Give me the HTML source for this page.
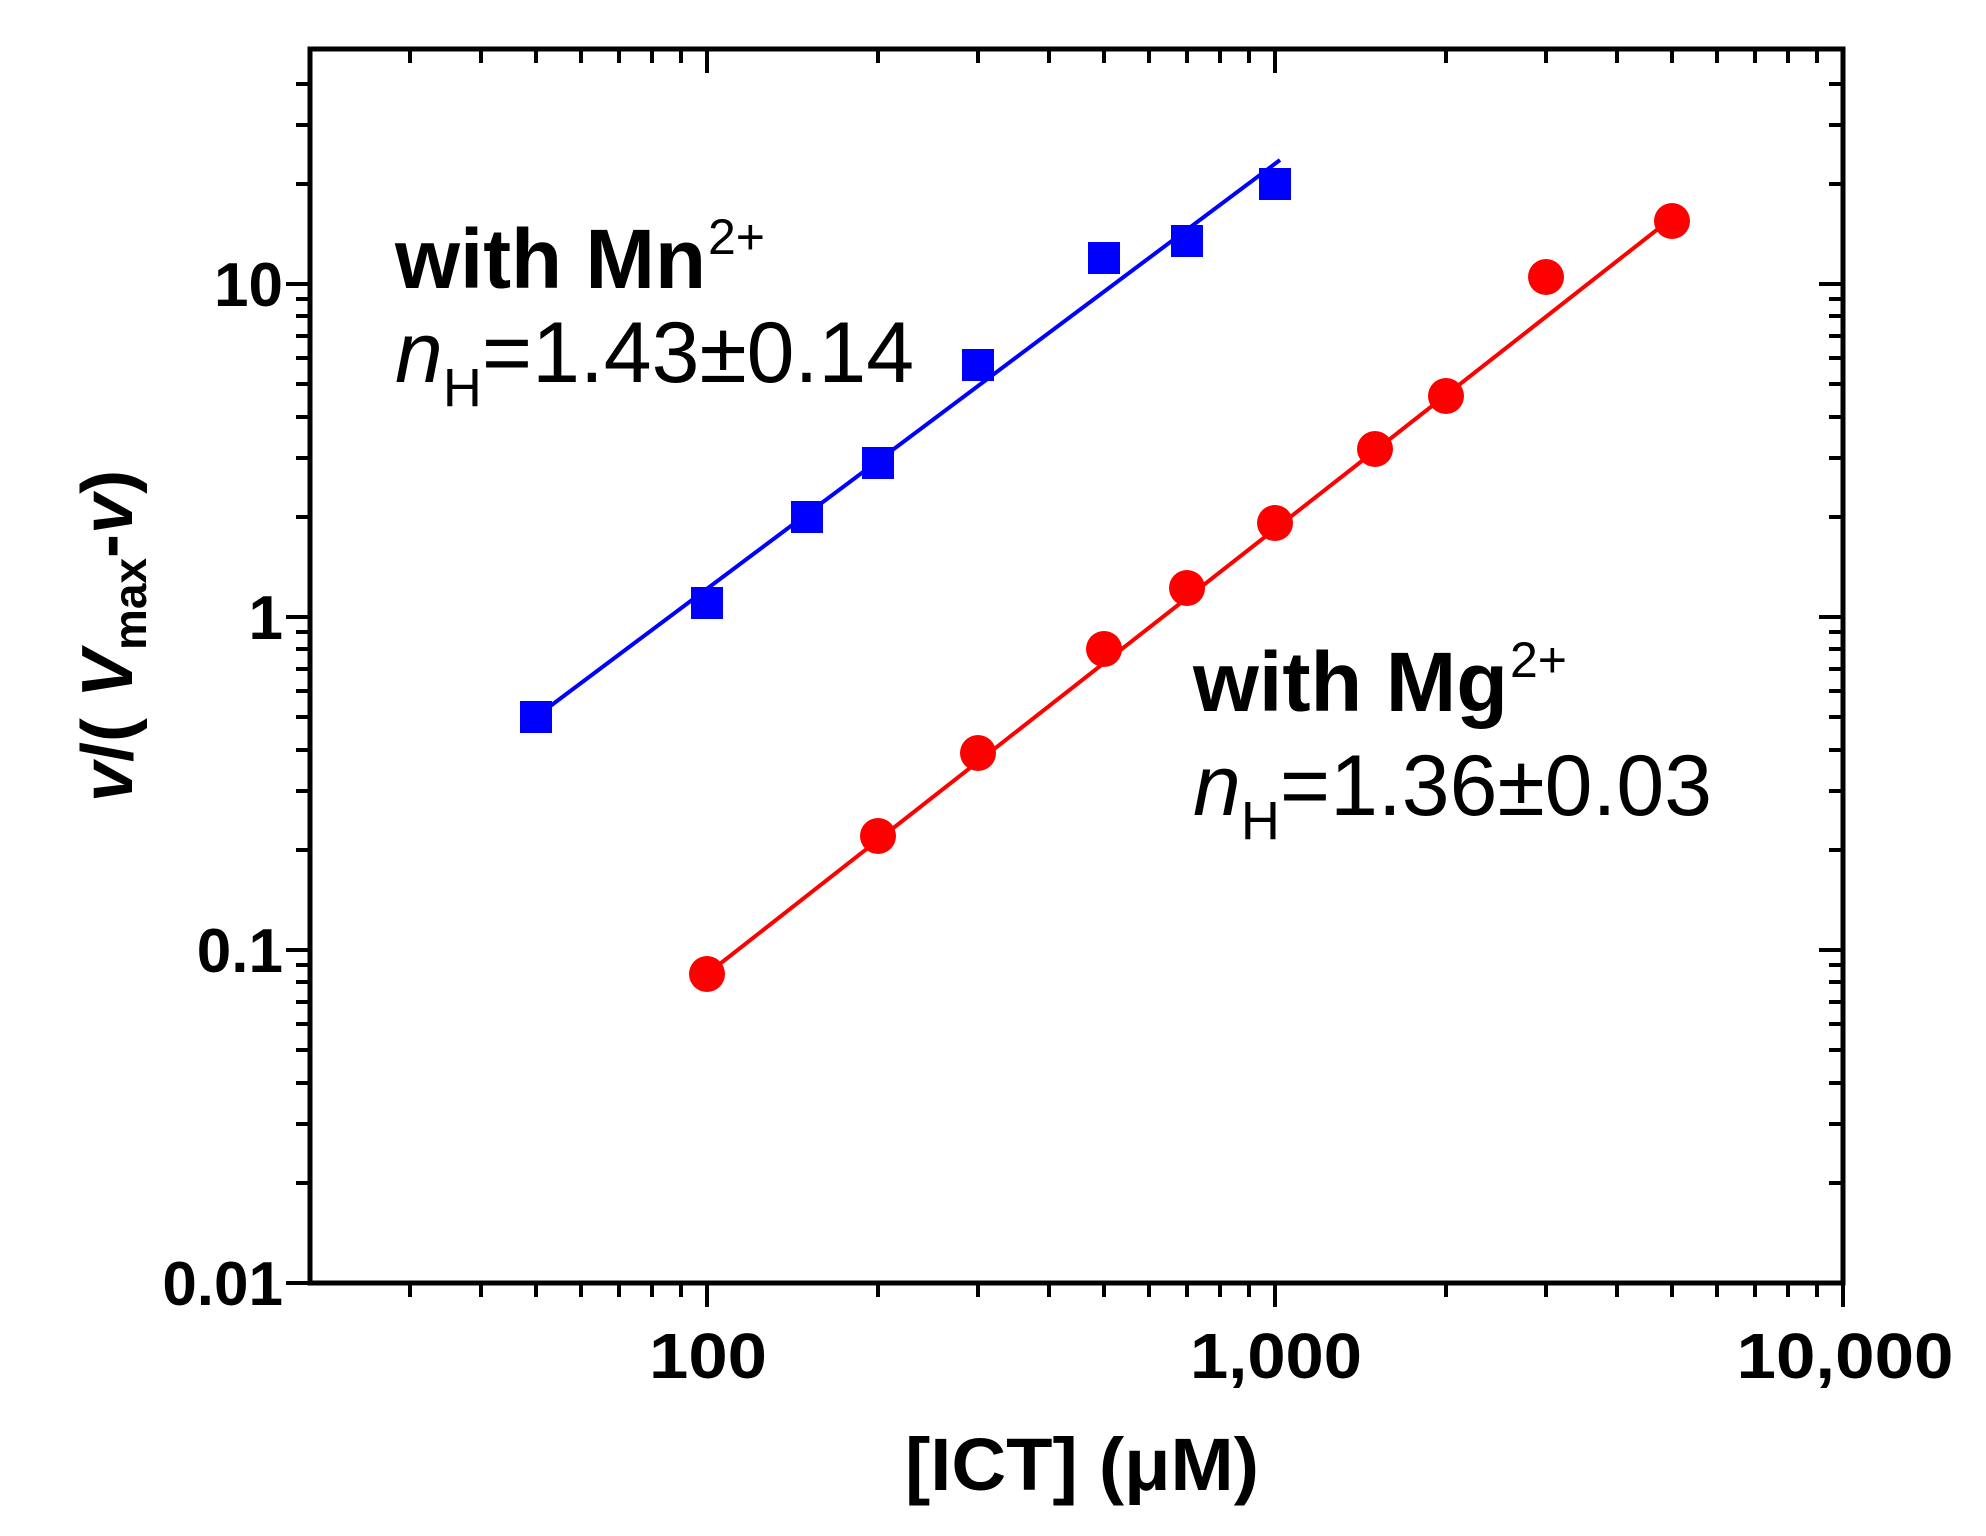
<!DOCTYPE html>
<html><head><meta charset="utf-8"><style>body{margin:0;background:#fff}svg{display:block}</style></head>
<body>
<svg width="1986" height="1536" viewBox="0 0 1986 1536" xmlns="http://www.w3.org/2000/svg" font-family="Liberation Sans, Arial, sans-serif">
<rect width="1986" height="1536" fill="#fff"/>
<g stroke="#000" stroke-width="4" fill="none">
<path d="M410 1283v14M481 1283v14M536 1283v14M581 1283v14M619 1283v14M652 1283v14M681 1283v14
M878 1283v14M978 1283v14M1049 1283v14M1104 1283v14M1149 1283v14M1187 1283v14M1220 1283v14M1249 1283v14
M1446 1283v14M1546 1283v14M1617 1283v14M1672 1283v14M1717 1283v14M1755 1283v14M1788 1283v14M1817 1283v14
M707 1283v24M1275 1283v24M1843 1283v24"/>
<path d="M410 49v14M481 49v14M536 49v14M581 49v14M619 49v14M652 49v14M681 49v14
M878 49v14M978 49v14M1049 49v14M1104 49v14M1149 49v14M1187 49v14M1220 49v14M1249 49v14
M1446 49v14M1546 49v14M1617 49v14M1672 49v14M1717 49v14M1755 49v14M1788 49v14M1817 49v14
M707 49v24M1275 49v24"/>
<path d="M310 1183h-14M310 1124h-14M310 1083h-14M310 1050h-14M310 1024h-14M310 1002h-14M310 982h-14M310 965h-14
M310 850h-14M310 791h-14M310 750h-14M310 717h-14M310 691h-14M310 669h-14M310 649h-14M310 632h-14
M310 517h-14M310 458h-14M310 417h-14M310 384h-14M310 358h-14M310 336h-14M310 316h-14M310 299h-14
M310 184h-14M310 125h-14M310 84h-14
M310 1283h-24M310 950h-24M310 617h-24M310 284h-24"/>
<path d="M1843 1183h-14M1843 1124h-14M1843 1083h-14M1843 1050h-14M1843 1024h-14M1843 1002h-14M1843 982h-14M1843 965h-14
M1843 850h-14M1843 791h-14M1843 750h-14M1843 717h-14M1843 691h-14M1843 669h-14M1843 649h-14M1843 632h-14
M1843 517h-14M1843 458h-14M1843 417h-14M1843 384h-14M1843 358h-14M1843 336h-14M1843 316h-14M1843 299h-14
M1843 184h-14M1843 125h-14M1843 84h-14
M1843 950h-24M1843 617h-24M1843 284h-24"/>
</g>
<rect x="310" y="49" width="1533" height="1234" fill="none" stroke="#000" stroke-width="5"/>
<line x1="537" y1="716" x2="1280" y2="160" stroke="#0000ff" stroke-width="4"/>
<line x1="707" y1="974" x2="1672" y2="218" stroke="#ff0000" stroke-width="4"/>
<g fill="#0000ff">
<rect x="520" y="701" width="32" height="32"/>
<rect x="691" y="587" width="32" height="32"/>
<rect x="791" y="501" width="32" height="32"/>
<rect x="862" y="447" width="32" height="32"/>
<rect x="962" y="349" width="32" height="32"/>
<rect x="1088" y="242" width="32" height="32"/>
<rect x="1171" y="225" width="32" height="32"/>
<rect x="1259" y="168" width="32" height="32"/>
</g>
<g fill="#ff0000">
<circle cx="707" cy="974" r="18"/>
<circle cx="878" cy="836" r="18"/>
<circle cx="978" cy="753" r="18"/>
<circle cx="1104" cy="649" r="18"/>
<circle cx="1187" cy="588" r="18"/>
<circle cx="1275" cy="523" r="18"/>
<circle cx="1375" cy="449" r="18"/>
<circle cx="1446" cy="396" r="18"/>
<circle cx="1546" cy="277" r="18"/>
<circle cx="1672" cy="221" r="18"/>
</g>
<g font-weight="bold" font-size="62" text-anchor="end">
<text x="283" y="306">10</text>
<text x="283" y="639">1</text>
<text x="283" y="972">0.1</text>
<text x="283" y="1305">0.01</text>
</g>
<g font-weight="bold" font-size="64" text-anchor="middle">
<text x="708" y="1378" textLength="118" lengthAdjust="spacingAndGlyphs">100</text>
<text x="1276" y="1378" textLength="172" lengthAdjust="spacingAndGlyphs">1,000</text>
<text x="1845" y="1378" textLength="217" lengthAdjust="spacingAndGlyphs">10,000</text>
</g>
<text x="1082" y="1490" font-weight="bold" font-size="74" text-anchor="middle" textLength="354" lengthAdjust="spacingAndGlyphs">[ICT] (μM)</text>
<g transform="translate(132,636) rotate(-90)" font-weight="bold" font-size="72" text-anchor="middle">
<text x="0" y="0"><tspan font-style="italic">v</tspan>/( <tspan font-style="italic">V</tspan><tspan font-size="46" dy="14">max</tspan><tspan dy="-14">-</tspan><tspan font-style="italic">v</tspan>)</text>
</g>
<text x="395" y="288" font-weight="bold" font-size="84" textLength="311" lengthAdjust="spacingAndGlyphs">with Mn</text>
<text x="708" y="254" font-size="50">2+</text>
<text x="395" y="382" font-size="86"><tspan font-style="italic">n</tspan><tspan font-size="54" dy="24">H</tspan><tspan dy="-24">=1.43±0.14</tspan></text>
<text x="1193" y="711" font-weight="bold" font-size="84" textLength="315" lengthAdjust="spacingAndGlyphs">with Mg</text>
<text x="1510" y="677" font-size="50">2+</text>
<text x="1193" y="815" font-size="86"><tspan font-style="italic">n</tspan><tspan font-size="54" dy="24">H</tspan><tspan dy="-24">=1.36±0.03</tspan></text>
</svg>
</body></html>
